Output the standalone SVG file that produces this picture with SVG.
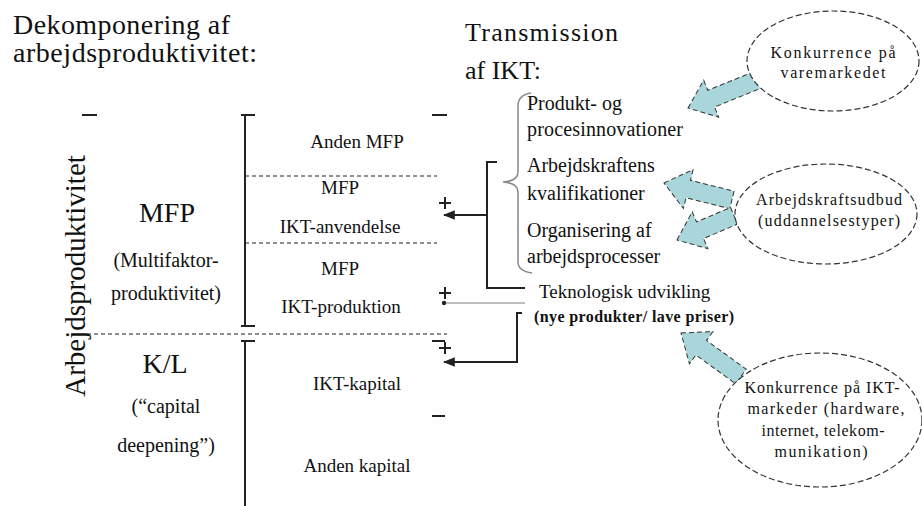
<svg xmlns="http://www.w3.org/2000/svg" width="922" height="506" viewBox="0 0 922 506" font-family="'Liberation Serif', 'Times New Roman', 'DejaVu Serif', serif">
<defs>
<style>
text{font-family:'Liberation Serif','Times New Roman','DejaVu Serif',serif;fill:#111}
.t{font-size:28px}
.h{font-size:26px}
.m{font-size:19px;text-anchor:middle}
.l{font-size:20px;text-anchor:middle}
.b{font-size:28px;text-anchor:middle}
.r{font-size:20px}
.e{font-size:16px;text-anchor:middle}
.ln{stroke:#222;stroke-width:2;fill:none}
.dash{stroke:#222;stroke-width:1.2;stroke-dasharray:4 3;fill:none}
.ell{fill:#fff;stroke:#333;stroke-width:1.2;stroke-dasharray:6 3}
.blk{fill:#a9d6da;stroke:#333;stroke-width:1;stroke-dasharray:5 3}
</style>
<marker id="ah" viewBox="0 0 10 10" refX="9" refY="5" markerWidth="6" markerHeight="6" orient="auto-start-reverse">
<path d="M0,1 L10,5 L0,9 z" fill="#222"/>
</marker>
</defs>
<rect width="922" height="506" fill="#fff"/>

<g id="titles">
<text class="t" x="13" y="34" textLength="217">Dekomponering af</text>
<text class="t" x="13" y="62" textLength="244">arbejdsproduktivitet:</text>
<text class="h" x="465" y="41" textLength="153">Transmission</text>
<text class="h" x="465" y="79">af IKT:</text>
</g>

<g id="axis">
<text x="85" y="276" font-size="29" text-anchor="middle" transform="rotate(-90 85 276)">Arbejdsproduktivitet</text>
<path class="ln" d="M82,115 H97 M432,115 H447 M432,341 H445 M432,416 H445"/>
<path class="ln" d="M241,115 H255 M245,115 V326 M241,326 H255 M241,341 H255 M245,341 V506"/>
<path class="dash" d="M245,176 H437 M245,243 H437 M87,334 H447"/>
</g>

<g id="left-labels">
<text class="b" x="167" y="222">MFP</text>
<text class="l" x="166" y="267">(Multifaktor-</text>
<text class="l" x="166" y="300">produktivitet)</text>
<text class="b" x="165" y="373">K/L</text>
<text class="l" x="166" y="413">(“capital</text>
<text class="l" x="166" y="452">deepening”)</text>
</g>

<g id="components">
<text class="m" x="357" y="148">Anden MFP</text>
<text class="m" x="340" y="194">MFP</text>
<text class="m" x="340" y="233">IKT-anvendelse</text>
<text class="m" x="340" y="275">MFP</text>
<text class="m" x="341" y="313">IKT-produktion</text>
<text class="m" x="357" y="390">IKT-kapital</text>
<text class="m" x="357" y="472">Anden kapital</text>
</g>

<g id="connectors">
<path class="ln" d="M497,162 H487 V288 H525 M487,215 H444" marker-end="url(#ah)"/>
<path d="M525,303 H446" stroke="#aaa" stroke-width="1.5" fill="none"/>
<circle cx="444" cy="303" r="2.2" fill="#222"/>
<path class="ln" d="M522,313 H517 V362 H444" marker-end="url(#ah)"/>
<path class="ln" d="M439,203 H451 M445,197 V209 M439,293 H451 M445,287 V299 M439,348 H451 M445,342 V354" stroke-width="1.3"/>
<path d="M531,93 Q518,95 518,106 V172 Q518,181 503,182 Q518,183 518,192 V262 Q518,271 532,273" stroke="#888" stroke-width="1.5" fill="none"/>
</g>

<g id="transmission">
<text class="r" x="527" y="110">Produkt- og</text>
<text class="r" x="527" y="136" textLength="156">procesinnovationer</text>
<text class="r" x="527" y="172">Arbejdskraftens</text>
<text class="r" x="527" y="200">kvalifikationer</text>
<text class="r" x="527" y="237">Organisering af</text>
<text class="r" x="527" y="263">arbejdsprocesser</text>
<text x="539" y="298" font-size="19">Teknologisk udvikling</text>
<text x="534" y="322" font-size="16" font-weight="bold" textLength="200">(nye produkter/ lave priser)</text>
</g>

<g id="block-arrows">
<path class="blk" d="M0,0 L25,-20 L25,-9 L78,-9 L78,9 L25,9 L25,20 Z" transform="translate(688,108) rotate(-22)"/>
<path class="blk" d="M0,0 L25,-20 L25,-9 L70,-9 L70,9 L25,9 L25,20 Z" transform="translate(664,183) rotate(14)"/>
<path class="blk" d="M0,0 L25,-20 L25,-9 L62,-9 L62,9 L25,9 L25,20 Z" transform="translate(677,240) rotate(-23)"/>
<path class="blk" d="M0,0 L25,-20 L25,-9 L74,-9 L74,9 L25,9 L25,20 Z" transform="translate(681,333) rotate(36)"/>
</g>

<g id="ell-vare">
<ellipse class="ell" cx="833" cy="61" rx="86" ry="50"/>
<text class="e" x="833" y="58" textLength="125">Konkurrence på</text>
<text class="e" x="833" y="78" textLength="105">varemarkedet</text>
</g>

<g id="ell-arb">
<ellipse class="ell" cx="826" cy="214" rx="91" ry="50"/>
<text class="e" x="829" y="205" textLength="146">Arbejdskraftsudbud</text>
<text class="e" x="829" y="226" textLength="142">(uddannelsestyper)</text>
</g>

<g id="ell-ikt">
<ellipse class="ell" cx="820" cy="420" rx="102" ry="67"/>
<text class="e" x="822" y="393" textLength="155">Konkurrence på IKT-</text>
<text class="e" x="826" y="414" textLength="157">markeder (hardware,</text>
<text class="e" x="823" y="436" textLength="123">internet, telekom-</text>
<text class="e" x="821" y="457" textLength="93">munikation)</text>
</g>
</svg>
